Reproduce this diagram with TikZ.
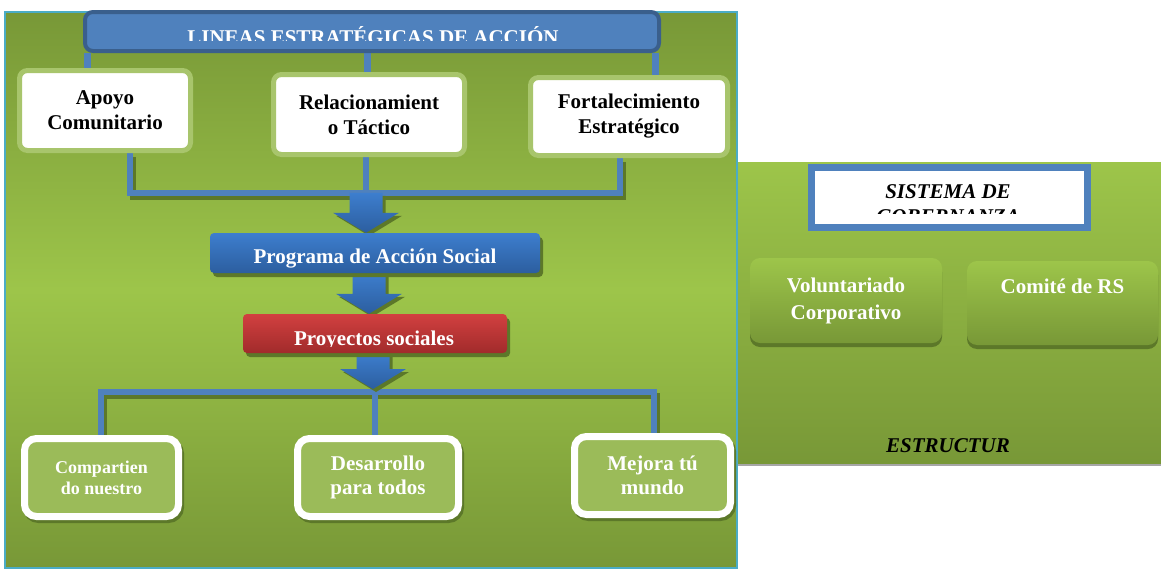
\documentclass[tikz,border=0pt]{standalone}
\usepackage{fontspec}
\setmainfont{Liberation Serif}
\usetikzlibrary{shadows}
\pgfdeclarelayer{fondo}
\pgfsetlayers{fondo,main}
\definecolor{azul}{HTML}{4F81BD}
\definecolor{azulosc}{HTML}{3A5F8C}
\definecolor{azulA}{HTML}{3D7ECE}
\definecolor{azulB}{HTML}{2C5E9F}
\definecolor{rojoA}{HTML}{D24040}
\definecolor{rojoB}{HTML}{A12B2B}
\definecolor{verdeA}{HTML}{9DC54A}
\definecolor{verdeB}{HTML}{789837}
\definecolor{sombra}{HTML}{5C7829}
\definecolor{halo}{HTML}{A8C56C}
\definecolor{verdecaja}{HTML}{9BBB59}
\definecolor{cian}{HTML}{4BACC6}

% block arrow: tip, shaft length
\newcommand{\flecha}[2]{%
  \fill[sombra, transform canvas={xshift=3pt,yshift=-3pt}] #1 -- ++(-33,-20) -- ++(16.5,0) -- ++(0,-#2) -- ++(33,0) -- ++(0,#2) -- ++(16.5,0) -- cycle;
  \shade[top color=azulA, bottom color=azulB] #1 -- ++(-33,-20) -- ++(16.5,0) -- ++(0,-#2) -- ++(33,0) -- ++(0,#2) -- ++(16.5,0) -- cycle;
}

\begin{document}
\begin{tikzpicture}[x=1pt, y=-1pt,
    titulo/.style={draw=azulosc, line width=4pt, fill=azul, rounded corners=8pt, minimum width=574pt, minimum height=39pt},
    caja/.style={draw=halo, line width=5pt, fill=white, rounded corners=8pt, inner sep=0pt, align=center, font=\fontsize{21}{25}\selectfont\bfseries},
    programa/.style={rounded corners=4pt, inner sep=0pt, text=white, font=\fontsize{21}{25}\selectfont\bfseries, drop shadow={shadow xshift=3pt, shadow yshift=-4pt, fill=sombra, opacity=1}},
    proyecto/.style={draw=white, line width=7pt, fill=verdecaja, rounded corners=12pt, inner sep=0pt, align=center, text=white, font=\fontsize{21}{24}\selectfont\bfseries, drop shadow={shadow xshift=2pt, shadow yshift=-3pt, fill=sombra, draw=sombra, line width=7pt, opacity=1}},
    gobierno/.style={rounded corners=10pt, top color=verdeA, bottom color=verdeB, inner sep=0pt, align=center, text=white, font=\fontsize{21}{27}\selectfont\bfseries, drop shadow={shadow xshift=0pt, shadow yshift=-4pt, fill=sombra, opacity=1}},
    barra/.style={draw=azul, line width=6pt},
    barrasombra/.style={draw=sombra, line width=6pt, transform canvas={xshift=3pt, yshift=-4pt}}]

    \useasboundingbox (0,0) rectangle (1161,570);

    % Nodes
    \node (titulo) [titulo] at (372,31.5) {};
    \node (apoyo) [caja, minimum width=171pt, minimum height=80pt] at (105,110.5) {Apoyo\\Comunitario};
    \node (rela) [caja, minimum width=191pt, minimum height=80pt] at (369,114.5) {Relacionamient\\o Táctico};
    \node (fort) [caja, minimum width=197pt, minimum height=78pt] at (629,116.5) {Fortalecimiento\\Estratégico};
    \node (prog) [programa, top color=azulA, bottom color=azulB, minimum width=330pt, minimum height=40pt, text height=20pt, text depth=0pt] at (375,253) {Programa de Acción Social};
    \node (proy) [programa, top color=rojoA, bottom color=rojoB, minimum width=264pt, minimum height=39pt] at (375,333.5) {};
    \node (comp) [proyecto, font=\fontsize{18}{21}\selectfont\bfseries, minimum width=154pt, minimum height=78pt] at (101.5,477.5) {Compartien\\do nuestro};
    \node (des) [proyecto, minimum width=161pt, minimum height=78pt] at (378,477.5) {Desarrollo\\para todos};
    \node (mej) [proyecto, minimum width=156pt, minimum height=78pt] at (652.5,475.5) {Mejora tú\\mundo};

    \node (sistema) [draw=azul, line width=7pt, fill=white, minimum width=276pt, minimum height=60pt] at (949.5,197.5) {};
    \node (vol) [gobierno, minimum width=192pt, minimum height=85pt] at (846,300.5) {Voluntariado\\Corporativo};
    \node (com) [gobierno, minimum width=191pt, minimum height=84pt, text height=0pt, text depth=20pt] at (1062.5,303) {Comité de RS};
    \node (estr) [anchor=base, font=\fontsize{21}{25}\selectfont\bfseries\itshape] at (948,452) {ESTRUCTUR};

    % Clipped texts
    \begin{scope}
        \clip (85,12) rectangle (659,40);
        \node (lineas) [anchor=base, text=white, font=\fontsize{21}{25}\selectfont\bfseries] at (373,44) {LINEAS ESTRATÉGICAS DE ACCIÓN};
    \end{scope}
    \begin{scope}
        \clip (243,314) rectangle (507,346.5);
        \node (proytxt) [anchor=base, text=white, font=\fontsize{21}{25}\selectfont\bfseries] at (374,345) {Proyectos sociales};
    \end{scope}
    \begin{scope}
        \clip (812,168) rectangle (1087,213);
        \node (sistxt) [anchor=north, align=center, inner sep=0pt, font=\fontsize{21}{25}\selectfont\bfseries\itshape] at (948,184) {SISTEMA DE\\GOBERNANZA};
    \end{scope}

    \begin{pgfonlayer}{fondo}
        % Panels
        \fill[white] (0,0) rectangle (1161,570);
        \fill[black!35] (737,463) rectangle (1161,466);
        \shade[top color=verdeA, bottom color=verdeB] (737,162) rectangle (1161,463);
        \shade[top color=verdeB, bottom color=verdeB, middle color=verdeA] (5,12) rectangle (737,568);
        \draw[cian, line width=2pt] (5,12) rectangle (737,568);

        % Connectors
        \coordinate (t1) at (87,0);
        \coordinate (t2) at (367,0);
        \coordinate (t3) at (655,0);
        \draw[barra, line width=7pt] (t1 |- titulo.south) -- (t1 |- apoyo.north);
        \draw[barra, line width=7pt] (t2 |- titulo.south) -- (t2 |- rela.north);
        \draw[barra, line width=7pt] (t3 |- titulo.south) -- (t3 |- fort.north);

        \coordinate (m1) at (130,193);
        \coordinate (m2) at (366,193);
        \coordinate (m3) at (620,193);
        \draw[barrasombra] (m1 |- apoyo.south) -- (m1) -- (m3) -- (m3 |- fort.south);
        \draw[barra] (m1 |- apoyo.south) -- (m1) -- (m3) -- (m3 |- fort.south);
        \draw[barra] (m2 |- rela.south) -- (m2);

        \coordinate (n1) at (101,392);
        \coordinate (n2) at (375,392);
        \coordinate (n3) at (654,392);
        \draw[barrasombra] (n1 |- comp.north) -- (n1) -- (n3) -- (n3 |- mej.north);
        \draw[barra] (n1 |- comp.north) -- (n1) -- (n3) -- (n3 |- mej.north);
        \draw[barra] (n2) -- (n2 |- des.north);

        % Arrows
        \coordinate (f1) at ([xshift=-9pt]prog.north);
        \coordinate (f2) at ([xshift=-6pt]proy.north);
        \coordinate (f3) at (373,389);
        \flecha{(f1)}{20}
        \flecha{(f2)}{21}
        \flecha{(f3)}{16}
    \end{pgfonlayer}

\end{tikzpicture}
\end{document}
